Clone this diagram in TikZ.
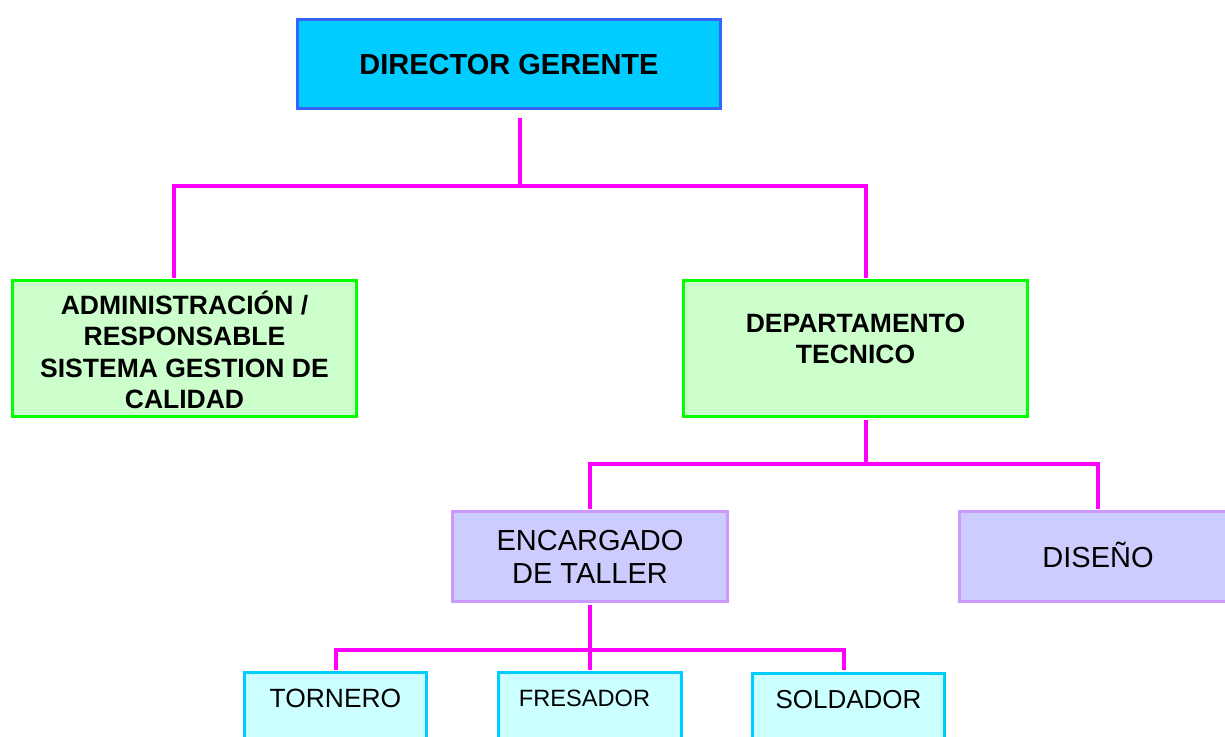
\documentclass[tikz,border=0pt]{standalone}
\usepackage{fontspec}
\setmainfont{Liberation Sans}
\definecolor{dirfill}{HTML}{00CCFF}
\definecolor{dirdraw}{HTML}{3366FF}
\definecolor{grfill}{HTML}{CCFFCC}
\definecolor{grdraw}{HTML}{00FF00}
\definecolor{pufill}{HTML}{CCCCFF}
\definecolor{pudraw}{HTML}{CC99FF}
\definecolor{cyfill}{HTML}{CCFFFF}
\definecolor{cydraw}{HTML}{00CCFF}
\definecolor{mag}{HTML}{FF00FF}
\newcommand\lift[2]{\raisebox{#1}[\height][\depth]{#2}}
\newcommand\lines[1]{\begin{tabular}{@{}c@{}}#1\end{tabular}}
\begin{document}
\begin{tikzpicture}[x=1pt,y=-1pt,
  box/.style={draw, rectangle, line width=3pt, inner sep=0pt},
  dirbox/.style={box, draw=dirdraw, fill=dirfill, font=\fontsize{29}{33}\selectfont\bfseries},
  grbox/.style={box, draw=grdraw, fill=grfill, font=\fontsize{26.5}{31.5}\selectfont\bfseries},
  pubox/.style={box, draw=pudraw, fill=pufill, font=\fontsize{29}{33}\selectfont},
  cybox/.style={box, draw=cydraw, fill=cyfill},
  conn/.style={draw=mag, line width=3.2pt, line join=miter}]
\useasboundingbox[fill=white] (0,0) rectangle (1225,736);
\clip (0,0) rectangle (1225,736);
% nodes
\node[dirbox, minimum width=423pt, minimum height=89pt] (dir) at (509,64) {\lift{-1pt}{DIRECTOR GERENTE}};
\node[grbox, minimum width=344pt, minimum height=136pt] (adm) at (184.5,348.5)
  {\lift{-6pt}{\lines{ADMINISTRACIÓN /\\RESPONSABLE\\SISTEMA GESTION DE\\CALIDAD}}};
\node[grbox, minimum width=344pt, minimum height=136pt] (dep) at (855.5,348.5)
  {\lift{7pt}{\lines{DEPARTAMENTO\\TECNICO}}};
\node[pubox, minimum width=275pt, minimum height=90pt] (enc) at (590,556.5)
  {\lift{-4pt}{\lines{ENCARGADO\\DE TALLER}}};
\node[pubox, minimum width=277pt, minimum height=90pt] (dis) at (1098,556.5) {\lift{1.5pt}{DISEÑO}};
\node[cybox, minimum width=182pt, minimum height=100pt, font=\fontsize{26.4}{30}\selectfont] (tor) at (335.5,722.5) {\lift{24.5pt}{TORNERO}};
\node[cybox, minimum width=183pt, minimum height=100pt, font=\fontsize{23.6}{28}\selectfont] (fre) at (590,722.5) {\hspace*{-11pt}\lift{24.5pt}{FRESADOR}};
\node[cybox, minimum width=192pt, minimum height=100pt, font=\fontsize{26}{30}\selectfont] (sol) at (848.5,723) {\lift{23pt}{SOLDADOR}};
% connectors
\coordinate (d0) at (520,118);
\coordinate (b1) at (520,186);
\coordinate (l1) at (174,186);
\coordinate (r1) at (866,186);
\coordinate (l2) at (590,464);
\coordinate (r2) at (1098,464);
\coordinate (l3) at (336,650);
\coordinate (r3) at (844,650);
\draw[conn] (d0) -- (b1);
\draw[conn, shorten <=1.5pt, shorten >=1.5pt] (l1 |- adm.north) -- (l1) -- (r1) -- (r1 |- dep.north);
\draw[conn, shorten <=1.5pt] (r1 |- dep.south) -- (r1 |- l2);
\draw[conn, shorten <=1.5pt, shorten >=1.5pt] (l2 |- enc.north) -- (l2) -- (r2) -- (r2 |- dis.north);
\draw[conn, shorten <=1.5pt, shorten >=1.5pt] (enc.south) -- (fre.north);
\draw[conn, shorten <=1.5pt, shorten >=1.5pt] (l3 |- tor.north) -- (l3) -- (r3) -- (r3 |- sol.north);
\end{tikzpicture}
\end{document}
